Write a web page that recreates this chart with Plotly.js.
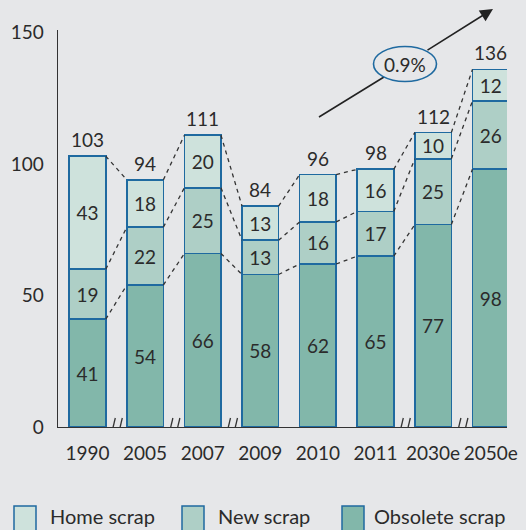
<!DOCTYPE html>
<html>
<head>
<meta charset="utf-8">
<script src="https://cdn.plot.ly/plotly-3.0.1.min.js"></script>
<style>html,body{margin:0;padding:0;background:#e6e7e9;}</style>
</head>
<body>
<div id="chart" style="width:526px;height:530px;"></div>
<script>
// ---- data ----
const categories = ["1990", "2005", "2007", "2009", "2010", "2011", "2030e", "2050e"];
const obsoleteScrap = [41, 54, 66, 58, 62, 65, 77, 98];
const newScrap = [19, 22, 25, 13, 16, 17, 25, 26];
const homeScrap = [43, 18, 20, 13, 18, 16, 10, 12];
const totals = [103, 94, 111, 84, 96, 98, 112, 136];
const seriesNames = ["Home scrap", "New scrap", "Obsolete scrap"];
const breakAfter = [0, 1, 2, 5, 6]; // axis breaks between category i and i+1
const growthLabel = "0.9%";

// ---- styling ----
const FONT = "Lato, 'Noto Sans', sans-serif";
const TXT = "#2b2b2b";
const BG = "#e6e7e9";
const EDGE = "#1f6aa0";
const colors = {obs: "#82b7aa", neu: "#aecfc6", home: "#cee2dc"};
const BW = 0.634;

const xs = categories.map((c, i) => i);

function barTrace(name, vals, color) {
  return {
    type: "bar", name: name, x: xs, y: vals,
    width: BW,
    marker: {color: color, line: {color: EDGE, width: 1.7}},
    text: vals.map(String), textposition: "inside", insidetextanchor: "middle",
    textangle: 0, constraintext: "none",
    textfont: {family: FONT, size: 19, color: TXT},
    hoverinfo: "skip", showlegend: false
  };
}

const traces = [
  barTrace(seriesNames[2], obsoleteScrap, colors.obs),
  barTrace(seriesNames[1], newScrap, colors.neu),
  barTrace(seriesNames[0], homeScrap, colors.home)
];

// cumulative levels for dashed connectors
const lvl1 = obsoleteScrap;
const lvl2 = obsoleteScrap.map((v, i) => v + newScrap[i]);
const lvl3 = lvl2.map((v, i) => v + homeScrap[i]);
[lvl1, lvl2, lvl3].forEach(lv => {
  const cx = [], cy = [];
  for (let i = 0; i < xs.length - 1; i++) {
    cx.push(xs[i] + BW / 2, xs[i + 1] - BW / 2, null);
    cy.push(lv[i], lv[i + 1], null);
  }
  traces.push({type: "scatter", mode: "lines", x: cx, y: cy,
    line: {color: "#333", width: 1.3, dash: "4px,4px"},
    hoverinfo: "skip", showlegend: false});
});

// ---- layout ----
const L = 58, T = 30, W = 449, H = 397;
const px = x => (x - L) / W;
const py = y => (T + H - y) / H;

const shapes = [];
const annotations = [];

// axis break marks
breakAfter.forEach(i => {
  [[-6, -1], [1, 6]].forEach(([a, b]) => {
    shapes.push({type: "line", xref: "x", yref: "y",
      xsizemode: "pixel", xanchor: i + 0.5, x0: a, x1: b,
      ysizemode: "pixel", yanchor: 0, y0: -12, y1: 9,
      line: {color: "#333", width: 1.3}, layer: "above"});
  });
});

// totals
xs.forEach((x, i) => {
  annotations.push({x: x, y: totals[i], xref: "x", yref: "y", text: String(totals[i]),
    showarrow: false, xanchor: "center", yanchor: "bottom", yshift: 3,
    font: {family: FONT, size: 19, color: TXT}});
});

// growth arrow and ellipse
shapes.push({type: "line", xref: "paper", yref: "paper",
  x0: px(319), y0: py(117), x1: px(384), y1: py(77),
  line: {color: "#222", width: 1.6}});
annotations.push({xref: "paper", yref: "paper", x: px(493), y: py(9),
  ax: 426 - 493, ay: 51 - 9, axref: "pixel", ayref: "pixel",
  text: "", showarrow: true, arrowhead: 2, arrowsize: 1.6, arrowwidth: 1.6,
  arrowcolor: "#222", standoff: 0, startstandoff: 0});
shapes.push({type: "circle", xref: "paper", yref: "paper",
  x0: px(373.5), x1: px(436.5), y0: py(81.5), y1: py(46.5),
  fillcolor: BG, line: {color: EDGE, width: 1.6}, layer: "above"});
annotations.push({xref: "paper", yref: "paper", x: px(405), y: py(64),
  xanchor: "center", yanchor: "middle",
  text: growthLabel, showarrow: false,
  font: {family: FONT, size: 19, color: TXT}});

// legend
const legendItems = [
  {name: seriesNames[0], color: colors.home, sx: 14, tx: 48},
  {name: seriesNames[1], color: colors.neu, sx: 182, tx: 216},
  {name: seriesNames[2], color: colors.obs, sx: 342, tx: 372}
];
legendItems.forEach(it => {
  shapes.push({type: "rect", xref: "paper", yref: "paper",
    x0: px(it.sx), x1: px(it.sx + 22), y0: py(506), y1: py(531),
    fillcolor: it.color, line: {color: EDGE, width: 1.5}});
  annotations.push({xref: "paper", yref: "paper", x: px(it.tx), y: py(516),
    xanchor: "left", yanchor: "middle", text: it.name, showarrow: false,
    font: {family: FONT, size: 20, color: TXT}});
});

const layout = {
  width: 526, height: 530,
  margin: {l: L, r: 526 - L - W, t: T, b: 530 - T - H},
  paper_bgcolor: BG, plot_bgcolor: BG,
  barmode: "stack",
  showlegend: false,
  font: {family: FONT, size: 19, color: TXT},
  xaxis: {
    range: [-0.512, 7.283], tickvals: xs, ticktext: categories,
    showgrid: false, zeroline: false, showline: true,
    linecolor: "#333", linewidth: 1.3, ticks: "",
    ticklabelstandoff: 9,
    tickfont: {family: FONT, size: 19, color: TXT}, fixedrange: true
  },
  yaxis: {
    range: [0, 151], tickvals: [0, 50, 100, 150],
    showgrid: false, zeroline: false, showline: true,
    linecolor: "#333", linewidth: 1.3, ticks: "",
    ticklabelstandoff: 9,
    tickfont: {family: FONT, size: 19, color: TXT}, fixedrange: true
  },
  shapes: shapes,
  annotations: annotations
};

Plotly.newPlot("chart", traces, layout, {displayModeBar: false, staticPlot: true});
</script>
</body>
</html>
